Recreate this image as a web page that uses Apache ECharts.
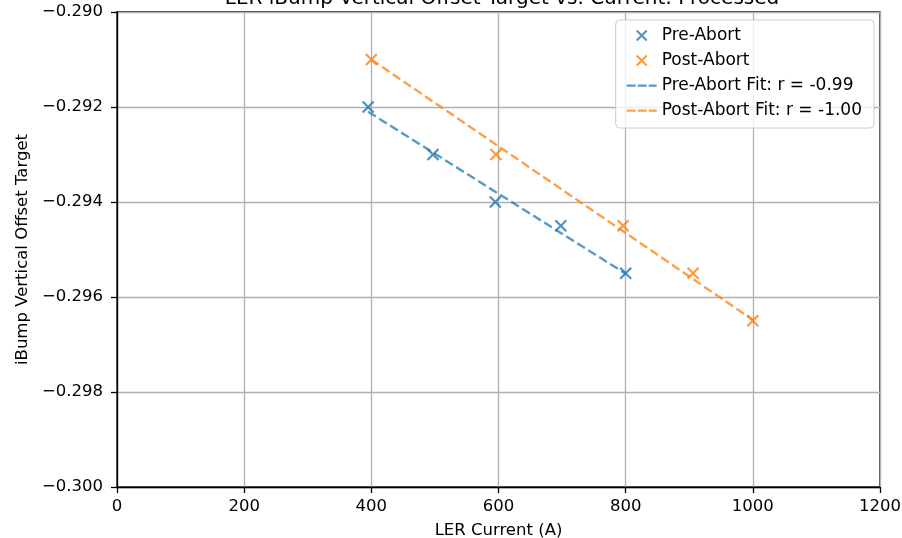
<!DOCTYPE html>
<html>
<head>
<meta charset="utf-8">
<script src="https://cdn.jsdelivr.net/npm/echarts@6/dist/echarts.min.js"></script>
<style>
  html, body { margin: 0; padding: 0; background: #fff; }
  #J_chart { width: 902px; height: 538px; }
</style>
</head>
<body>
<div id="J_chart"></div>
<script>
// values
var preAbort = [[395, -0.2920], [497, -0.2930], [595, -0.2940], [698, -0.2945], [800, -0.2955]];
var postAbort = [[400, -0.2910], [596, -0.2930], [796, -0.2945], [906, -0.2955], [1000, -0.2965]];
var preFit = [[395, -0.29210], [800, -0.29551]];
var postFit = [[400, -0.29100], [1000, -0.29648]];
var seriesNames = ['Pre-Abort', 'Post-Abort', 'Pre-Abort Fit: r = -0.99', 'Post-Abort Fit: r = -1.00'];

var blue = '#1f77b4';
var orange = '#ff7f0e';
var font = 'DejaVu Sans';
var fs = 16.5;
var cross = 'path://M0,0 L10,10 M10,0 L0,10';
// three dashes, with hairline top/bottom so the icon keeps its height
var dashIcon = 'path://M0,0 L30,0 L30,0.01 L0,0.01 Z M0,4 L9,4 L9,6.2 L0,6.2 Z M11,4 L20,4 L20,6.2 L11,6.2 Z M22,4 L30,4 L30,6.2 L22,6.2 Z M0,9.99 L30,9.99 L30,10 L0,10 Z';

var myChart = echarts.init(document.getElementById('J_chart'));

var option = {
    animation: false,
    title: {
        text: 'LER iBump Vertical Offset Target vs. Current: Processed',
        left: 497,
        textAlign: 'center',
        top: -16,
        textStyle: { fontFamily: font, fontSize: 20, fontWeight: 'normal', color: '#000' }
    },
    grid: {
        left: 117,
        right: 22,
        top: 12,
        bottom: 51,
        outerBoundsMode: 'none',
        containLabel: false,
        show: true,
        borderColor: '#000',
        borderWidth: 1.3
    },
    legend: {
        orient: 'vertical',
        right: 28,
        top: 20,
        padding: [7, 12, 9, 11],
        itemWidth: 30,
        itemHeight: 10,
        itemGap: 8,
        itemTextGap: 17,
        backgroundColor: 'rgba(255,255,255,0.8)',
        borderColor: '#cccccc',
        borderWidth: 1,
        borderRadius: 4,
        textStyle: { fontFamily: font, fontSize: 17, color: '#000' },
        data: [
            { name: seriesNames[0] },
            { name: seriesNames[1] },
            { name: seriesNames[2], icon: dashIcon, itemStyle: { color: blue, opacity: 0.75, borderWidth: 0 } },
            { name: seriesNames[3], icon: dashIcon, itemStyle: { color: orange, opacity: 0.75, borderWidth: 0 } }
        ]
    },
    xAxis: {
        type: 'value',
        min: 0,
        max: 1200,
        interval: 200,
        name: 'LER Current (A)',
        nameLocation: 'middle',
        nameGap: 35,
        nameTextStyle: { fontFamily: font, fontSize: fs, color: '#000' },
        axisLine: { show: true, onZero: false, lineStyle: { color: '#000', width: 1.3 } },
        axisTick: { show: true, length: 6, lineStyle: { color: '#000', width: 1.3 } },
        axisLabel: {
            fontFamily: font, fontSize: fs, color: '#000', margin: 11,
            formatter: function (value) {
                return String(value);
            }
        },
        splitLine: { show: true, lineStyle: { color: '#b0b0b0', width: 1.3 } }
    },
    yAxis: {
        type: 'value',
        min: -0.300,
        max: -0.290,
        interval: 0.002,
        name: 'iBump Vertical Offset Target',
        nameLocation: 'middle',
        nameGap: 85,
        nameTextStyle: { fontFamily: font, fontSize: fs, color: '#000' },
        axisLine: { show: true, onZero: false, lineStyle: { color: '#000', width: 1.3 } },
        axisTick: { show: true, length: 6, lineStyle: { color: '#000', width: 1.3 } },
        axisLabel: {
            fontFamily: font, fontSize: fs, color: '#000', margin: 14,
            formatter: function (value) {
                return value.toFixed(3).replace('-', '\u2212');
            }
        },
        splitLine: { show: true, lineStyle: { color: '#b0b0b0', width: 1.3 } }
    },
    series: [{
        name: seriesNames[0],
        type: 'scatter',
        symbol: cross,
        symbolSize: 11,
        symbolKeepAspect: true,
        itemStyle: { color: blue, borderColor: blue, borderWidth: 2.2 },
        data: preAbort,
        z: 3
    }, {
        name: seriesNames[1],
        type: 'scatter',
        symbol: cross,
        symbolSize: 11,
        symbolKeepAspect: true,
        itemStyle: { color: orange, borderColor: orange, borderWidth: 2.2 },
        data: postAbort,
        z: 3
    }, {
        name: seriesNames[2],
        type: 'line',
        symbol: 'none',
        itemStyle: { color: blue, opacity: 0.75 },
        lineStyle: { color: blue, width: 2.4, type: [9, 4], opacity: 0.75 },
        data: preFit,
        z: 2
    }, {
        name: seriesNames[3],
        type: 'line',
        symbol: 'none',
        itemStyle: { color: orange, opacity: 0.75 },
        lineStyle: { color: orange, width: 2.4, type: [9, 4], opacity: 0.75 },
        data: postFit,
        z: 2
    }]
};

myChart.setOption(option);
</script>
</body>
</html>
